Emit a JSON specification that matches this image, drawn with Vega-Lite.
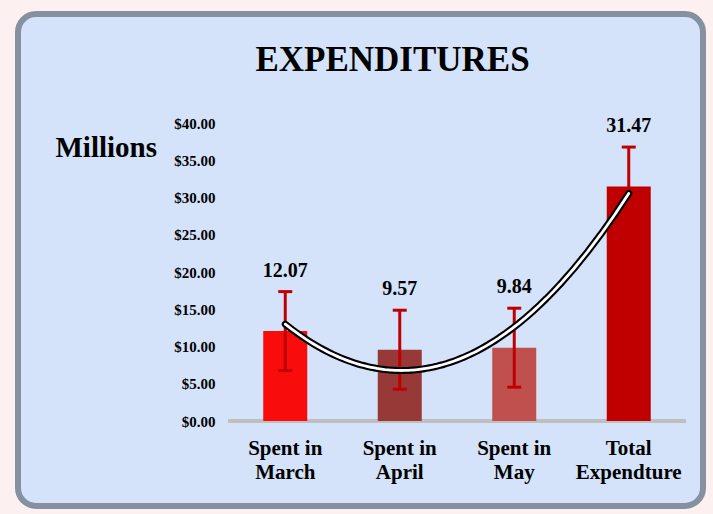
{
  "$schema": "https://vega.github.io/schema/vega-lite/v6.json",
  "width": 685,
  "height": 492,
  "autosize": {"type": "none"},
  "padding": {"left": 18, "top": 14, "right": 10, "bottom": 8},
  "background": "#fcf0f0",
  "config": {
    "view": {"fill": "#d4e3fa", "stroke": "#8590a0", "strokeWidth": 6, "cornerRadius": 18}
  },
  "title": {
    "text": "EXPENDITURES",
    "font": "Liberation Serif",
    "fontSize": 35,
    "fontWeight": "bold",
    "color": "#000000",
    "anchor": "middle",
    "frame": "group",
    "dx": 32,
    "offset": -92,
    "baseline": "alphabetic"
  },
  "data": {
    "values": [
      {"category": "Spent in March", "idx": 1, "value": 12.07, "lo": 6.77, "hi": 17.37},
      {"category": "Spent in April", "idx": 2, "value": 9.57, "lo": 4.27, "hi": 14.87},
      {"category": "Spent in May", "idx": 3, "value": 9.84, "lo": 4.54, "hi": 15.14},
      {"category": "Total Expendture", "idx": 4, "value": 31.47, "lo": 26.17, "hi": 36.77}
    ]
  },
  "layer": [
    {
      "mark": {"type": "rule", "color": "#bfbfbf", "strokeWidth": 4},
      "encoding": {
        "x": {"datum": 0.5, "type": "quantitative", "scale": {"domain": [0.5, 4.5], "range": [210, 668], "nice": false, "zero": false}, "axis": null},
        "x2": {"datum": 4.5},
        "y": {"datum": 0, "type": "quantitative", "scale": {"domain": [0, 40], "range": [407, 109], "nice": false, "zero": false}}
      }
    },
    {
      "encoding": {
        "x": {
          "field": "category",
          "type": "nominal",
          "sort": null,
          "scale": {"type": "band", "range": [210, 668], "paddingInner": 0.6157, "paddingOuter": 0.3079, "round": false},
          "axis": {
            "title": null,
            "offset": -85,
            "domain": false,
            "ticks": false,
            "labelAngle": 0,
            "labelFont": "Liberation Serif",
            "labelFontWeight": "bold",
            "labelFontSize": 21,
            "labelLineHeight": 24,
            "labelColor": "#000000",
            "labelPadding": 16,
            "labelExpr": "datum.label == 'Total Expendture' ? ['Total', 'Expendture'] : ['Spent in', substring(datum.label, 9)]"
          }
        }
      },
      "layer": [
        {
          "mark": {"type": "bar"},
          "encoding": {
            "y": {
              "field": "value",
              "type": "quantitative",
              "scale": {"domain": [0, 40], "range": [407, 109], "nice": false, "zero": false},
              "axis": {
                "values": [0, 5, 10, 15, 20, 25, 30, 35, 40],
                "format": "$.2f",
                "offset": -210,
                "domain": false,
                "ticks": false,
                "grid": false,
                "labelFont": "Liberation Serif",
                "labelFontWeight": "bold",
                "labelFontSize": 15,
                "labelColor": "#000000",
                "labelPadding": 13,
                "title": "Millions",
                "titleFont": "Liberation Serif",
                "titleFontSize": 29,
                "titleFontWeight": "bold",
                "titleColor": "#000000",
                "titleAngle": 0,
                "titleX": -173,
                "titleY": 133,
                "titleAlign": "left",
                "titleBaseline": "middle"
              }
            },
            "color": {
              "field": "category",
              "type": "nominal",
              "scale": {
                "domain": ["Spent in March", "Spent in April", "Spent in May", "Total Expendture"],
                "range": ["#f80c0c", "#973a37", "#c0504d", "#c00000"]
              },
              "legend": null
            }
          }
        },
        {
          "mark": {"type": "rule", "color": "#c00000", "strokeWidth": 3},
          "encoding": {
            "y": {"field": "lo", "type": "quantitative"},
            "y2": {"field": "hi"}
          }
        },
        {
          "mark": {"type": "tick", "color": "#c00000", "size": 14, "thickness": 3, "opacity": 1},
          "encoding": {
            "y": {"field": "lo", "type": "quantitative"}
          }
        },
        {
          "mark": {"type": "tick", "color": "#c00000", "size": 14, "thickness": 3, "opacity": 1},
          "encoding": {
            "y": {"field": "hi", "type": "quantitative"}
          }
        },
        {
          "mark": {"type": "text", "font": "Liberation Serif", "fontWeight": "bold", "fontSize": 20, "color": "#000000", "baseline": "middle", "dy": -21},
          "encoding": {
            "y": {"field": "hi", "type": "quantitative"},
            "text": {"field": "value", "type": "quantitative", "format": ".2f"}
          }
        }
      ]
    },
    {
      "transform": [
        {"regression": "value", "on": "idx", "method": "poly", "order": 2, "extent": [1, 4]}
      ],
      "encoding": {
        "x": {"field": "idx", "type": "quantitative", "scale": {"domain": [0.5, 4.5], "range": [210, 668], "nice": false, "zero": false}, "axis": null},
        "y": {"field": "value", "type": "quantitative"}
      },
      "layer": [
        {"mark": {"type": "line", "color": "#000000", "strokeWidth": 7, "strokeCap": "round", "strokeJoin": "round"}},
        {"mark": {"type": "line", "color": "#ffffff", "strokeWidth": 2.8, "strokeCap": "round", "strokeJoin": "round"}}
      ]
    }
  ],
  "resolve": {"scale": {"x": "independent"}}
}
